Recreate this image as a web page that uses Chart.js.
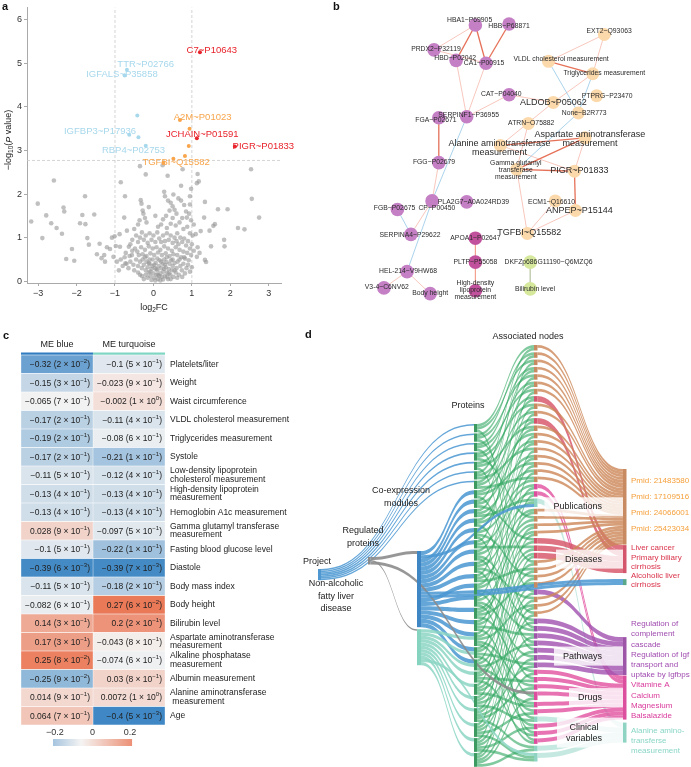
<!DOCTYPE html>
<html><head><meta charset="utf-8">
<script src="https://cdn.jsdelivr.net/npm/chart.js@4.4.1/dist/chart.umd.min.js"></script>
<style>
body{margin:0;background:#fff;}
#wrap{position:relative;width:691px;height:767px;overflow:hidden;background:#fff}
canvas{position:absolute;}
</style></head><body>
<div id="wrap">
<canvas id="ca" width="330" height="315" style="left:0;top:0"></canvas>
<canvas id="cb" width="361" height="310" style="left:330px;top:0"></canvas>
<canvas id="cc" width="290" height="467" style="left:0;top:300px"></canvas>
<canvas id="cd" width="401" height="467" style="left:290px;top:300px"></canvas>
</div>
<script>
const FONT = '"Liberation Sans", Arial, Helvetica, sans-serif';
Chart.defaults.font.family = FONT;

/* ---------------- Panel a data (volcano) ---------------- */
const volcanoXTicks = [-3,-2,-1,0,1,2,3];
const volcanoYTicks = [0,1,2,3,4,5,6];
const fcCutoffs = [-1, 1];
const pCutoff = 2.77;
const volcanoGrey = [
[-3.18,1.37],[-3.01,1.78],[-2.89,0.99],[-2.79,1.51],[-2.66,1.33],[-2.59,2.31],[-2.52,1.22],[-2.38,1.09],[-2.34,1.69],[-2.32,1.6],
[-2.27,0.51],[-2.12,0.74],[-2.06,0.47],[-1.91,1.33],[-1.85,1.52],[-1.78,1.95],[-1.77,1.31],[-1.72,0.99],[-1.68,0.84],[-1.54,1.53],
[-1.47,0.62],[-1.4,0.86],[-1.35,0.53],[-1.28,0.6],[-1.26,0.45],[-1.21,0.78],[-1.13,0.74],[-1.04,0.56],[-0.98,0.81],[-1.08,1.0],
[-1.01,1.03],[-0.87,0.79],[-0.85,2.27],[-0.74,1.95],[-0.88,1.08],[-0.76,1.46],[-0.69,1.16],[-0.35,2.64],[-0.2,2.45],[-0.64,0.79],
[-0.56,0.6],[-0.73,0.41],
[2.54,2.57],[2.56,1.89],[2.75,1.46],[2.2,1.22],[2.37,1.19],[1.93,1.65],[1.84,0.95],[1.85,0.8],[1.68,1.65],[1.6,1.31],
[1.46,1.16],[1.34,1.82],[1.23,1.15],[1.15,2.46],[1.18,2.29],[1.13,2.25],[0.98,2.12],[0.95,1.95],[0.95,1.76],[0.72,2.19],
[0.52,1.99],[0.28,2.05],[0.37,2.42],[0.24,2.66],[0.76,2.57],[1.32,1.46],[1.34,0.49],[1.5,0.8],[1.13,0.56],[0.87,1.46],[1.37,0.44],[1.56,1.27],
[-0.33,1.86],[-0.31,1.78],[-0.28,1.62],[-0.26,1.55],[-0.22,1.45],[-0.36,1.4],[-0.4,1.3],[-0.18,1.35],[-0.12,1.7],[0.05,1.5],
[0.3,1.95],[0.38,1.85],[0.45,1.8],[0.5,1.72],[0.55,1.64],[0.6,1.55],[0.42,1.62],[0.33,1.5],[0.25,1.42],[0.5,1.45],
[0.65,1.9],[0.72,1.85],[0.8,1.75],[0.85,1.6],[0.93,1.55],[0.98,1.4],[0.75,1.45],[0.68,1.35],[0.45,1.32],[0.58,1.28],
[0.2,1.3],[0.12,1.25],[0.35,1.22],[0.88,1.25],[0.78,1.2],[1.05,1.3],[0.95,1.1],[1.02,1.05],[1.1,1.08],[0.62,1.1],
[-0.5,1.2],[-0.45,1.05],[-0.55,0.95],[-0.6,0.85],[-0.4,0.9],[-0.35,1.0],[-0.3,1.12],[-0.25,0.95],[-0.2,1.05],[-0.15,0.88],
[-0.1,1.1],[-0.05,0.95],[0.0,1.05],[0.05,0.9],[0.1,1.12],[0.15,0.98],[0.2,0.9],[0.25,1.05],[0.3,0.92],[0.35,1.1],
[0.4,0.95],[0.45,1.05],[0.5,0.88],[0.55,1.0],[0.6,0.92],[0.65,0.85],[0.7,1.0],[0.75,0.9],[0.8,0.98],[0.85,0.82],
[0.9,0.92],[0.95,0.75],[1.0,0.85],[1.05,0.7],[1.15,0.78],[1.2,0.65],[-0.48,0.75],[-0.42,0.68],[-0.32,0.78],[-0.22,0.72],
[-0.12,0.8],[-0.02,0.75],[0.08,0.78],[0.18,0.72],[0.28,0.8],[0.38,0.75],[0.48,0.7],[0.58,0.78],[0.68,0.72],[0.78,0.68],
[0.88,0.65],[0.98,0.6],[-0.38,0.6],[-0.28,0.62],[-0.18,0.58],[-0.08,0.64],[0.02,0.6],[0.12,0.66],[0.22,0.6],[0.32,0.64],
[0.42,0.58],[0.52,0.62],[0.62,0.6],[0.72,0.55],[0.82,0.52],[0.92,0.48],
[-0.6,0.45],[-0.52,0.38],[-0.45,0.5],[-0.4,0.35],[-0.35,0.45],[-0.3,0.3],[-0.28,0.5],[-0.25,0.38],[-0.2,0.25],[-0.18,0.45],
[-0.15,0.32],[-0.12,0.2],[-0.1,0.4],[-0.08,0.12],[-0.05,0.28],[-0.03,0.35],[0.0,0.18],[0.02,0.08],[0.04,0.3],[0.06,0.42],
[0.08,0.15],[0.1,0.25],[0.12,0.05],[0.14,0.35],[0.16,0.48],[0.18,0.18],[0.2,0.3],[0.22,0.1],[0.24,0.4],[0.26,0.22],
[0.28,0.5],[0.3,0.12],[0.32,0.32],[0.34,0.44],[0.36,0.2],[0.38,0.05],[0.4,0.28],[0.42,0.4],[0.44,0.15],[0.46,0.48],
[0.48,0.25],[0.5,0.35],[0.52,0.1],[0.55,0.42],[0.58,0.2],[0.6,0.3],[0.63,0.45],[0.66,0.15],[0.7,0.35],[0.74,0.25],
[0.78,0.4],[0.82,0.18],[0.86,0.3],[0.9,0.38],[0.95,0.22],[1.0,0.32],[-0.02,0.5],[0.1,0.52],[-0.22,0.55],[0.35,0.55],
[-0.3,0.12],[-0.25,0.05],[-0.15,0.08],[-0.05,0.03],[0.05,0.02],[0.15,0.12],[0.25,0.04],[0.35,0.1],[-0.1,0.5],[0.45,0.05],
[-0.4,0.2],[-0.5,0.25],[-0.35,0.15],[0.62,0.08],[0.75,0.1],[-0.08,0.22],[0.02,0.38],[0.12,0.15],[0.2,0.45],[0.3,0.38],
[-0.2,0.15],[-0.12,0.42],[0.08,0.28],[0.18,0.02],[0.28,0.28],[0.4,0.18],[0.5,0.5],[0.55,0.25],[0.68,0.5],[0.8,0.55],
[-0.65,0.3],[-0.7,0.4],[-0.75,0.55],[-0.8,0.35],[-0.85,0.5],[-0.9,0.25],[-0.72,0.65],[-0.62,0.58],[-0.55,0.7],[-0.95,0.45]
];
const volcanoHits = [
[1.21,5.25,'up'],[1.13,3.28,'up'],[2.12,3.09,'up'],
[0.69,3.7,'mid'],[0.94,3.5,'mid'],[0.92,3.1,'mid'],[0.82,2.87,'mid'],[0.52,2.81,'mid'],[0.26,2.72,'mid'],
[-0.69,4.85,'down'],[-0.42,3.8,'down'],[-0.63,3.36,'down'],[-0.39,3.3,'down'],[-0.2,3.11,'down'],[-0.75,4.72,'down']
];
const volcanoLabels = [
['C7~P10643',1.52,5.29,'up'],['TTR~P02766',-0.2,4.97,'down'],['IGFALS~P35858',-0.82,4.74,'down'],
['A2M~P01023',1.28,3.75,'mid'],['IGFBP3~P17936',-1.39,3.44,'down'],['JCHAIN~P01591',1.27,3.36,'up'],
['PIGR~P01833',2.86,3.09,'up'],['RBP4~P02753',-0.52,2.99,'down'],['TGFBI~Q15582',0.59,2.72,'mid']
];
const hitColors = {up:'#e8232b', mid:'#f8a54c', down:'#a7d8ec'};

/* ---------------- Panel b data (network) ---------------- */
const netNodes = [
['HBA1~P69905',144,19,'p'],['HBB~P68871',179,18,'p'],['PRDX2~P32119',101,45,'p'],['HBD~P02042',124,56,'p'],
['CA1~P00915',155,59,'p'],['CAT~P04040',179,92,'p'],['SERPINF1~P36955',135,115,'p'],['FGA~P02671',106,116,'p'],
['FGG~P02679',106,163,'p'],['PLA2G7~A0A024RD39',135,204,'p'],['CP~P00450',99,203,'p'],['FGB~P02675',63,212,'p'],
['SERPINA4~P29622',77,238,'p'],['APOA1~P02647',144,242,'m'],['PLTP~P55058',144,267,'m'],['HEL-214~V9HW68',73,277,'p'],
['V3-4~C6NV62',49,294,'p'],['Body height',97,300,'p'],['High-density lipoprotein measurement',144,297,'m'],
['DKFZp686G11190~Q6MZQ6',201,267,'g'],['Bilirubin level',201,295,'g'],
['EXT2~Q93063',278,29,'o'],['VLDL cholesterol measurement',220,57,'o'],['Triglycerides measurement',266,70,'o'],
['PTPRG~P23470',270,93,'o'],['ALDOB~P05062',225,100,'o'],['None~B2R773',251,111,'o'],['ATRN~O75882',199,122,'o'],
['Aspartate aminotransferase measurement',258,137,'o'],['Alanine aminotransferase measurement',170,145,'o'],
['Gamma glutamyl transferase measurement',187,170,'o'],['PIGR~P01833',247,172,'o'],['ECM1~Q16610',227,203,'o'],
['ANPEP~P15144',248,213,'o'],['TGFBI~Q15582',198,237,'o']
];
// label offsets [dx, dy, big]
const netLabelPos = [
[-6,-5,0],[0,2,0],[2,-1,0],[-1,-2,0],[-2,0,0],[-8,-1,0],[2,-2,0],[-3,3,0],[-5,-1,0],[7,0,0],[5,8,0],[-3,-1,0],
[-1,1,0],[0,0,0],[0,0,0],[1,-1,0],[3,-1,0],[0,-1,0],[0,-1,0],[19,0,0],[5,0,0],
[5,-4,0],[13,-2,0],[12,-1,0],[11,0,0],[0,0,1],[6,0,0],[3,0,0],[5,1.5,1],[-1,2.5,1],[-1,1,0],[5,-1,1],[-4,1,0],[4,0,1],[2,-1,1]
];
const netWrap = {
 'High-density lipoprotein measurement':['High-density','lipoprotein','measurement'],
 'Aspartate aminotransferase measurement':['Aspartate aminotransferase','measurement'],
 'Alanine aminotransferase measurement':['Alanine aminotransferase','measurement'],
 'Gamma glutamyl transferase measurement':['Gamma glutamyl','transferase','measurement']
};
const netEdges = [
['HBA1~P69905','PRDX2~P32119','w'],['HBA1~P69905','HBD~P02042','s'],['HBA1~P69905','CA1~P00915','s'],
['HBB~P68871','CA1~P00915','s'],['PRDX2~P32119','CA1~P00915','w'],['HBD~P02042','SERPINF1~P36955','w'],
['CA1~P00915','SERPINF1~P36955','w'],['CAT~P04040','SERPINF1~P36955','w'],['CAT~P04040','ALDOB~P05062','w'],
['SERPINF1~P36955','CP~P00450','n'],['FGA~P02671','FGG~P02679','s'],['FGG~P02679','CP~P00450','w'],
['CP~P00450','HEL-214~V9HW68','n'],['FGB~P02675','SERPINA4~P29622','n'],['CP~P00450','SERPINA4~P29622','w'],
['HEL-214~V9HW68','V3-4~C6NV62','w'],['HEL-214~V9HW68','Body height','w'],['APOA1~P02647','PLTP~P55058','w'],
['PLTP~P55058','High-density lipoprotein measurement','w'],['DKFZp686G11190~Q6MZQ6','Bilirubin level','g'],
['EXT2~Q93063','VLDL cholesterol measurement','w'],['EXT2~Q93063','Triglycerides measurement','w'],
['VLDL cholesterol measurement','Triglycerides measurement','s'],['VLDL cholesterol measurement','None~B2R773','n'],
['Triglycerides measurement','None~B2R773','n'],['Triglycerides measurement','ALDOB~P05062','w'],
['ALDOB~P05062','Alanine aminotransferase measurement','w'],['None~B2R773','Gamma glutamyl transferase measurement','n'],
['ATRN~O75882','Gamma glutamyl transferase measurement','w'],
['Alanine aminotransferase measurement','Aspartate aminotransferase measurement','s'],
['Alanine aminotransferase measurement','PIGR~P01833','w'],
['Aspartate aminotransferase measurement','Gamma glutamyl transferase measurement','s'],
['Aspartate aminotransferase measurement','PIGR~P01833','w'],
['Gamma glutamyl transferase measurement','PIGR~P01833','s'],['Gamma glutamyl transferase measurement','TGFBI~Q15582','w'],
['PIGR~P01833','ANPEP~P15144','s'],['TGFBI~Q15582','ECM1~Q16610','w'],['TGFBI~Q15582','ANPEP~P15144','w']
];
const netNodeColors = {p:'#c47fc5', m:'#c1519c', o:'#fcd9ab', g:'#d6e89c'};
const netEdgeColors = {w:'rgba(240,140,120,0.55)', s:'rgba(226,88,60,0.85)', n:'rgba(150,200,232,0.9)', g:'rgba(190,200,170,0.8)'};

/* ---------------- Panel c data (heatmap) ---------------- */
const traitLabels = [
'Platelets/liter','Weight','Waist circumference','VLDL cholesterol measurement','Triglycerides measurement','Systole',
['Low-density lipoprotein','cholesterol measurement'],['High-density lipoprotein','measurement'],'Hemoglobin A1c measurement',
['Gamma glutamyl transferase','measurement'],'Fasting blood glucose level','Diastole','Body mass index','Body height',
'Bilirubin level',['Aspartate aminotransferase','measurement'],['Alkaline phosphatase','measurement'],'Albumin measurement',
['Alanine aminotransferase',' measurement'],'Age'
];
const meBlueCorr = [-0.32,-0.15,-0.065,-0.17,-0.19,-0.17,-0.11,-0.13,-0.13,0.028,-0.1,-0.39,-0.11,-0.082,0.14,0.17,0.25,-0.25,0.014,0.064];
const meBluePMant = [2,3,7,2,2,2,5,4,4,9,5,6,5,6,3,3,8,9,9,7];
const meBluePExp = [-2,-1,-1,-1,-1,-1,-1,-1,-1,-1,-1,-3,-1,-1,-1,-1,-2,-2,-1,-1];
const meTurqCorr = [-0.1,-0.023,-0.002,-0.11,-0.08,-0.21,-0.12,-0.13,-0.13,-0.097,-0.22,-0.39,-0.18,0.27,0.2,-0.043,-0.074,0.03,0.0072,-0.4];
const meTurqPMant = [5,9,1,4,6,1,4,4,4,5,1,7,2,6,2,8,6,8,1,5];
const meTurqPExp = [-1,-1,0,-1,-1,-1,-1,-1,-1,-1,-1,-3,-1,-2,-1,-1,-1,-1,0,-3];
const moduleNames = ['ME blue','ME turquoise'];
const moduleColors = ['#2f7dc0','#7fd6c3'];
const colorbarTicks = [-0.2,0,0.2];

/* ---------------- Panel d data (sankey) ---------------- */
const assocCats = ['pub','pub','pub','pub','pub','pub','pub','dis','pub','pub','dis','pub','pub','pub','pub','pub','pub','pub','pub',
'drug','drug','clin','pub','pub','pub','pub','dis','dis','dis','pub','pub','pub','pub','path','pub','pub','pub',
'path','path','path','path','path','path','path','drug','drug','drug','drug','drug','drug','clin','drug','drug','drug','clin','clin'];
// [associated node, protein A, protein B]
const proteinAssocLinks = [
[0,0,5],[1,1,8],[2,0,12],[3,2,6],[4,1,15],[5,3,9],[6,2,20],[7,4,11],[8,3,17],[9,5,24],[10,6,13],[11,4,10],[12,7,22],[13,8,14],
[14,5,27],[15,9,16],[16,7,19],[17,10,25],[18,11,6],[19,12,21],[20,13,28],[21,14,9],[22,15,18],[23,16,3],[24,17,23],[25,18,26],
[26,19,8],[27,20,12],[28,21,29],[29,22,1],[30,23,15],[31,24,11],[32,25,18],[33,26,2],[34,27,14],[35,28,20],[36,29,7],[37,13,24],
[38,16,0],[39,19,27],[40,22,10],[41,25,4],[42,28,17],[43,21,26],[44,18,29],[45,23,13],[46,26,20],[47,29,16],[48,24,22],[49,27,19],
[50,17,25],[51,20,28],[52,14,23],[53,11,21],[54,26,29],[55,28,27]
];
const proteinAssocWidth = 2.75;
const projectProteins = [0,1,2,3,4,5,6];
const projectWidth = 1.6;
const blueModuleProteins = [7,8,9,10,11,12,13,14,15,16,17,18,19,20,21,22];
const blueModuleWidth = 4.2;
const turqModuleProteins = [20,21,22,23,24,25,26,27,28,29];
const turqModuleWidth = 3.3;
const extraLinks = [['R','MB',3,'gray'],['R','MT',1.5,'gray'],['R','a47',3,'gray'],['MB','a21',3,'blue'],
['MB','X',3,'blue'],['MB','X',3,'blue'],['MT','a55',3,'turq']];
const categoryKeys = ['pub','dis','X','path','drug','clin'];
const categoryLinkWidth = {pub:2.7, dis:5.6, path:4.75, drug:4, clin:5};
const categoryBoxes = [['Publications'],['Diseases'],['Pathways'],['Drugs'],['Clinical','variables']];
const categoryItems = [
 [['Pmid: 21483580','Pmid: 17109516','Pmid: 24066001','Pmid: 25423034'],'#f5a03a'],
 [['Liver cancer','Primary biliary','cirrhosis','Alcoholic liver','cirrhosis'],'#d9334a'],
 [['Regulation of','complement','cascade','Regulation of Igf','transport and','uptake by Igfbps'],'#a04cb0'],
 [['Vitamine A','Calcium','Magnesium','Balsalazide'],'#d9399a'],
 [['Alanine amino-','transferse','measurement'],'#8ad6c6']
];

/* ---------------- helpers ---------------- */
function richFont(p){ return (p.style||'normal')+' '+(p.weight||'normal')+' '+p.size+'px '+FONT; }
function drawRich(ctx, parts, x, y, align){
  let w = 0;
  parts.forEach(p=>{ ctx.font = richFont(p); p.w = ctx.measureText(p.t).width; w += p.w; });
  let sx = align==='center' ? x - w/2 : (align==='right' ? x - w : x);
  ctx.textAlign = 'left'; ctx.textBaseline = 'middle';
  parts.forEach(p=>{ ctx.font = richFont(p); ctx.fillText(p.t, sx, y + (p.dy||0)); sx += p.w; });
}
function minus(s){ return String(s).replace('-', '\u2212'); }
function panelLetter(ctx, l, x, y){ ctx.save(); ctx.fillStyle='#111'; ctx.font='bold 11px '+FONT; ctx.textAlign='left'; ctx.textBaseline='middle'; ctx.fillText(l,x,y); ctx.restore(); }
function heatColor(v){
  const mid = -0.06, w=[245,244,243], b=[63,136,197], r=[233,110,74];
  let t, c;
  if (v <= mid){ t = Math.min(1,(mid - v)/0.34); c = b; } else { t = Math.min(1,(v - mid)/0.36); c = r; }
  const m = w.map((wv,i)=>Math.round(wv + (c[i]-wv)*t));
  return 'rgb('+m.join(',')+')';
}
const baseOpts = {responsive:false, animation:false, devicePixelRatio:1, plugins:{legend:{display:false}, tooltip:{enabled:false}}};

/* ---------------- Panel a chart ---------------- */
const hitGroups = ['down','mid','up'];
new Chart(document.getElementById('ca'), {
  type:'scatter',
  data:{datasets:[
    {data: volcanoGrey.map(([x,y])=>({x,y})), pointRadius:2.3, backgroundColor:'rgba(150,150,150,0.6)', borderWidth:0, order:2},
    ...hitGroups.map(g=>({data: volcanoHits.filter(h=>h[2]===g).map(h=>({x:h[0],y:h[1]})), pointRadius:2, backgroundColor:hitColors[g], borderWidth:0, order:1})),
    ...fcCutoffs.map(c=>({type:'line', data:[{x:c,y:-0.04},{x:c,y:6.28}], borderColor:'#c9c9c9', borderWidth:0.8, borderDash:[3,2], pointRadius:0, order:10})),
    {type:'line', data:[{x:-3.29,y:pCutoff},{x:3.32,y:pCutoff}], borderColor:'#c9c9c9', borderWidth:0.8, borderDash:[3,2], pointRadius:0, order:10}
  ]},
  options:{...baseOpts,
    layout:{padding:{top:3,right:49,left:0,bottom:0}},
    scales:{
      x:{type:'linear', min:-3.29, max:3.32, afterBuildTicks:s=>{s.ticks = volcanoXTicks.map(v=>({value:v}));},
         ticks:{font:{size:9}, color:'#333', padding:2, callback:v=>minus(v)},
         grid:{drawOnChartArea:false, tickLength:3, color:'#aaa'}, border:{color:'#aaa'}, afterFit:s=>{s.height=32;}},
      y:{type:'linear', min:-0.04, max:6.28, afterBuildTicks:s=>{s.ticks = volcanoYTicks.map(v=>({value:v}));},
         ticks:{font:{size:9}, color:'#333', padding:2},
         grid:{drawOnChartArea:false, tickLength:3, color:'#aaa'}, border:{color:'#aaa'}, afterFit:s=>{s.width=27;}}
    }},
  plugins:[{id:'volLabels', afterDatasetsDraw(chart){
    const ctx = chart.ctx, xs = chart.scales.x, ys = chart.scales.y;
    ctx.save();
    ctx.font = '9.5px '+FONT; ctx.textAlign='center'; ctx.textBaseline='middle';
    volcanoLabels.forEach(([t,x,y,g])=>{ ctx.fillStyle = hitColors[g]; ctx.fillText(t, xs.getPixelForValue(x), ys.getPixelForValue(y)); });
    ctx.fillStyle = '#222';
    drawRich(ctx, [{t:'log',size:9},{t:'2',size:6.5,dy:2.5},{t:'FC',size:9}], (xs.left+xs.right)/2, 308, 'center');
    ctx.translate(9, 140); ctx.rotate(-Math.PI/2);
    drawRich(ctx, [{t:'\u2212log',size:9},{t:'10',size:6.5,dy:2.5},{t:'(',size:9},{t:'P',size:9,style:'italic'},{t:' value)',size:9}], 0, 0, 'center');
    ctx.restore();
    panelLetter(ctx,'a',2,7);
  }}]
});

/* ---------------- Panel b chart ---------------- */
const netIndex = {}; netNodes.forEach((n,i)=>{ netIndex[n[0]] = i; });
const netPt = name => ({x: netNodes[netIndex[name]][1], y: netNodes[netIndex[name]][2]});
new Chart(document.getElementById('cb'), {
  type:'scatter',
  data:{datasets:[
    ...netEdges.map(([a,b,k])=>({type:'line', data:[netPt(a), netPt(b)], borderColor:netEdgeColors[k], borderWidth:k==='s'?1.3:0.9, pointRadius:0, order:5})),
    {data: netNodes.map(n=>({x:n[1], y:n[2]})), pointRadius: netNodes.map(n=>n[3]==='o'?6.5:6.8),
     backgroundColor: netNodes.map(n=>netNodeColors[n[3]]), borderWidth:0, order:1}
  ]},
  options:{...baseOpts, layout:{padding:0},
    scales:{x:{type:'linear',min:0,max:361,display:false}, y:{type:'linear',min:0,max:310,reverse:true,display:false}}},
  plugins:[{id:'netLabels', afterDatasetsDraw(chart){
    const ctx = chart.ctx, xs = chart.scales.x, ys = chart.scales.y;
    ctx.save(); ctx.textAlign='center'; ctx.textBaseline='middle'; ctx.fillStyle='#2a2a2a';
    netNodes.forEach((n,i)=>{
      const [dx,dy,big] = netLabelPos[i];
      const lines = netWrap[n[0]] || [n[0]];
      const size = big ? 9 : 6.8, lh = big ? 9 : 7;
      ctx.font = size+'px '+FONT;
      const cx = xs.getPixelForValue(n[1]+dx), cy = ys.getPixelForValue(n[2]+dy);
      lines.forEach((l,j)=>ctx.fillText(l, cx, cy + (j-(lines.length-1)/2)*lh));
    });
    ctx.restore();
    panelLetter(ctx,'b',3,7);
  }}]
});

/* ---------------- Panel c chart ---------------- */
function cellParts(r, m, e){
  return [{t:minus(r)+' ('+m+' \u00d7 10',size:8.5},{t:minus(e),size:6,dy:-3},{t:')',size:8.5}];
}
new Chart(document.getElementById('cc'), {
  type:'bar',
  data:{labels: traitLabels, datasets:[
    {label:moduleNames[0], data: meBlueCorr.map(()=>[0,1]), backgroundColor: meBlueCorr.map(heatColor), grouped:false, barPercentage:1, categoryPercentage:1, borderWidth:0.5, borderColor:'rgba(255,255,255,0.7)', borderSkipped:false},
    {label:moduleNames[1], data: meTurqCorr.map(()=>[1,2]), backgroundColor: meTurqCorr.map(heatColor), grouped:false, barPercentage:1, categoryPercentage:1, borderWidth:0.5, borderColor:'rgba(255,255,255,0.7)', borderSkipped:false}
  ]},
  options:{...baseOpts, indexAxis:'y',
    layout:{padding:{left:21, top:55, bottom:42, right:0}},
    scales:{
      x:{type:'linear', min:0, max:2, display:false},
      y:{type:'category', position:'right', grid:{display:false, drawTicks:false}, border:{display:false},
         ticks:{autoSkip:false, maxRotation:0, minRotation:0, padding:5, color:'#222', font:{size:8.5, lineHeight:1.0}},
         afterFit:s=>{s.width=125;}}
    }},
  plugins:[{id:'heatText', afterDatasetsDraw(chart){
    const ctx = chart.ctx, xs = chart.scales.x;
    ctx.save(); ctx.fillStyle = '#222';
    const sets = [[meBlueCorr, meBluePMant, meBluePExp],[meTurqCorr, meTurqPMant, meTurqPExp]];
    sets.forEach((s,di)=>{
      chart.getDatasetMeta(di).data.forEach((el,j)=>{
        const right = Math.max(el.x, el.base);
        drawRich(ctx, cellParts(s[0][j], s[1][j], s[2][j]), right - 3, el.y + 0.5, 'right');
      });
    });
    const top = chart.chartArea.top;
    moduleNames.forEach((n,i)=>{
      const x0 = xs.getPixelForValue(i), x1 = xs.getPixelForValue(i+1);
      ctx.fillStyle = '#222'; ctx.font = '9px '+FONT; ctx.textAlign='center'; ctx.textBaseline='middle';
      ctx.fillText(n, (x0+x1)/2, top - 10);
      ctx.fillStyle = moduleColors[i]; ctx.fillRect(x0, top - 2.5, x1 - x0, 2.2);
    });
    const cbx = v => 92.5 + v*188, cbY = 439, cbH = 7;
    for (let px = cbx(-0.21); px < cbx(0.21); px += 1){
      ctx.fillStyle = heatColor((px + 0.5 - 92.5)/188); ctx.fillRect(px, cbY, 1.05, cbH);
    }
    ctx.fillStyle = '#333'; ctx.font = '9px '+FONT; ctx.textAlign='center'; ctx.textBaseline='middle';
    colorbarTicks.forEach(v=>ctx.fillText(minus(v), cbx(v), cbY - 6));
    ctx.restore();
    panelLetter(ctx,'c',3,36);
  }}]
});

/* ---------------- Panel d chart (sankey) ---------------- */
const COLX = [318, 368, 417, 474, 534, 623];
const COLTOP = [569, 557, 551, 424, 345, 469];
const COLGAP = [0, 0, 2, 1.2, 1.8, 0];
const NODEW = [3, 2.5, 4, 3, 3.5, 3.5];
const catGapBefore = {pub:0, dis:0.5, X:6, path:52, drug:0.5, clin:3};
const catNodeColor = {pub:'#c88a60', dis:'#d3566c', X:'#5aa88a', path:'#9d55a8', drug:'#db4f9e', clin:'#8fd3c3'};
const linkColor = {blue:'rgba(74,150,210,0.85)', turq:'rgba(140,214,196,0.85)', gray:'rgba(140,140,140,0.9)', green:'rgba(52,168,98,0.62)',
  pub:'rgba(205,135,88,0.8)', dis:'rgba(214,80,100,0.8)', path:'rgba(160,80,175,0.8)', drug:'rgba(226,80,160,0.8)', clin:'rgba(150,215,200,0.55)'};

function buildSankey(){
  const nodes = {}, order = [[],[],[],[],[],[]], links = [];
  const add = (key, col, color, gap) => { nodes[key] = {key, col, color, gap:gap||0, ins:[], outs:[]}; order[col].push(key); };
  add('P',0,'#4f97d1'); add('R',1,'#8a8a8a'); add('MB',2,'#3f86c4'); add('MT',2,'#86d3bf');
  for (let i=0;i<30;i++) add('p'+i,3,'#3d9a60');
  assocCats.forEach((c,i)=>add('a'+i,4,catNodeColor[c]));
  categoryKeys.forEach(k=>add(k,5,catNodeColor[k],catGapBefore[k]));
  const link = (s,t,v,c) => { const l = {s:nodes[s], t:nodes[t], v, c}; links.push(l); l.s.outs.push(l); l.t.ins.push(l); };
  projectProteins.forEach(p=>link('P','p'+p,projectWidth,'blue'));
  blueModuleProteins.forEach(p=>link('MB','p'+p,blueModuleWidth,'blue'));
  turqModuleProteins.forEach(p=>link('MT','p'+p,turqModuleWidth,'turq'));
  extraLinks.forEach(([s,t,v,c])=>link(s,t,v,c));
  proteinAssocLinks.forEach(([a,p1,p2])=>{ link('p'+p1,'a'+a,proteinAssocWidth,'green'); link('p'+p2,'a'+a,proteinAssocWidth,'green'); });
  assocCats.forEach((c,i)=>link('a'+i, c, categoryLinkWidth[c], c));
  Object.values(nodes).forEach(n=>{
    n.inSum = n.ins.reduce((a,l)=>a+l.v,0); n.outSum = n.outs.reduce((a,l)=>a+l.v,0);
    n.h = Math.max(n.inSum, n.outSum);
  });
  order.forEach((keys,col)=>{
    let y = COLTOP[col];
    keys.forEach((k,i)=>{ const n = nodes[k]; if (i>0) y += COLGAP[col]; y += n.gap; n.y0 = y; n.y1 = y + n.h; y = n.y1; });
  });
  const mid = n => (n.y0+n.y1)/2;
  Object.values(nodes).forEach(n=>{
    let off = n.y0;
    n.outs.slice().sort((a,b)=>mid(a.t)-mid(b.t)).forEach(l=>{ l.sy = off; off += l.v; });
    off = n.y0;
    n.ins.slice().sort((a,b)=>mid(a.s)-mid(b.s)).forEach(l=>{ l.ty = off; off += l.v; });
  });
  return {nodes, links};
}
const sankey = buildSankey();

new Chart(document.getElementById('cd'), {
  type:'scatter',
  data:{datasets:[{data:[]}]},
  options:{...baseOpts, layout:{padding:0},
    scales:{x:{type:'linear',min:290,max:691,display:false}, y:{type:'linear',min:300,max:767,reverse:true,display:false}}},
  plugins:[{id:'sankeyDraw', afterDatasetsDraw(chart){
    const ctx = chart.ctx, xs = chart.scales.x, ys = chart.scales.y;
    const X = v => xs.getPixelForValue(v), Y = v => ys.getPixelForValue(v);
    ctx.save();
    const band = l => {
      const x0 = X(COLX[l.s.col] + NODEW[l.s.col]), x1 = X(COLX[l.t.col]);
      const a0 = Y(l.sy), a1 = Y(l.sy + l.v), b0 = Y(l.ty), b1 = Y(l.ty + l.v), xm = (x0+x1)/2;
      ctx.fillStyle = linkColor[l.c];
      ctx.beginPath(); ctx.moveTo(x0,a0); ctx.bezierCurveTo(xm,a0,xm,b0,x1,b0); ctx.lineTo(x1,b1);
      ctx.bezierCurveTo(xm,b1,xm,a1,x0,a1); ctx.closePath(); ctx.fill();
    };
    const layer1 = sankey.links.filter(l=>l.c==='green');
    const layer2 = sankey.links.filter(l=>['pub','dis','path','drug','clin'].includes(l.c));
    const layer3 = sankey.links.filter(l=>['blue','turq','gray'].includes(l.c));
    layer1.forEach(band); layer2.forEach(band); layer3.forEach(band);
    Object.values(sankey.nodes).forEach(n=>{
      if (n.h <= 0) return;
      ctx.fillStyle = n.color;
      ctx.fillRect(X(COLX[n.col]), Y(n.y0), X(COLX[n.col]+NODEW[n.col]) - X(COLX[n.col]), Y(n.y1) - Y(n.y0));
    });
    const catNodes = ['pub','dis','path','drug','clin'].map(k=>sankey.nodes[k]);
    ctx.font = '9px '+FONT; ctx.textAlign='center'; ctx.textBaseline='middle';
    categoryBoxes.forEach((lines,i)=>{
      const n = catNodes[i], cy = (n.y0+n.y1)/2, w = Math.max(...lines.map(t=>ctx.measureText(t).width)) + 18;
      const h = lines.length*11 + 8, xr = X(COLX[5]);
      ctx.fillStyle = 'rgba(255,255,255,0.8)'; ctx.fillRect(xr - w - 12, Y(cy) - h/2, w + 12, h);
      ctx.fillStyle = '#222';
      lines.forEach((t,j)=>ctx.fillText(t, xr - w/2 - 12, Y(cy) + (j-(lines.length-1)/2)*11));
    });
    ctx.font = '8px '+FONT; ctx.textAlign='left';
    const itemTops = [481, 548, 624, 685, 731], itemLH = [16, 9.3, 10.2, 10.3, 10];
    categoryItems.forEach(([items,col],i)=>{
      ctx.fillStyle = col;
      items.forEach((t,j)=>ctx.fillText(t, X(COLX[5]+8), Y(itemTops[i] + j*itemLH[i])));
    });
    ctx.fillStyle = '#222'; ctx.font = '9px '+FONT; ctx.textAlign='center';
    const colLabels = [[['Project'],317,562],[['Regulated','proteins'],363,531],[['Co-expression','modules'],401,491],[['Proteins'],468,406],[['Associated nodes'],528,337],[['Non-alcoholic','fatty liver','disease'],336,584]];
    colLabels.forEach(([lines,x,y])=>lines.forEach((t,j)=>ctx.fillText(t, X(x), Y(y + j*12.5))));
    ctx.restore();
    panelLetter(ctx,'d',15,35);
  }}]
});
</script>
</body></html>
